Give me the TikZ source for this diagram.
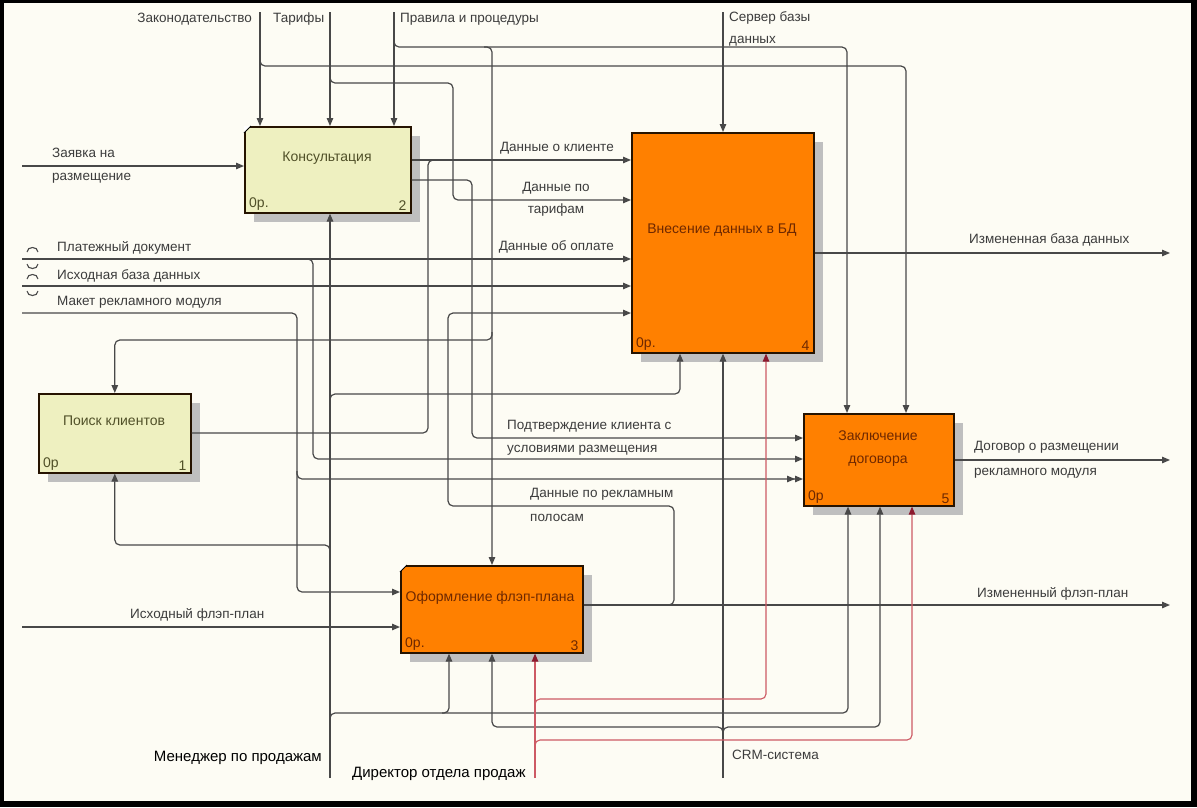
\documentclass[tikz,border=0pt]{standalone}
\usepackage{fontspec}
\setmainfont{Liberation Sans}
\usetikzlibrary{arrows.meta,shadows}

\definecolor{bgcol}{RGB}{253,252,244}
\definecolor{lncol}{RGB}{72,72,72}
\definecolor{redln}{RGB}{205,90,100}
\definecolor{redtip}{RGB}{140,25,45}
\definecolor{yfill}{RGB}{238,240,192}
\definecolor{ofill}{RGB}{255,128,0}
\definecolor{txtcol}{RGB}{60,60,60}
\definecolor{otxt}{RGB}{110,40,0}
\definecolor{ytxt}{RGB}{80,80,40}

\tikzset{
  tip/.style={-{Triangle[length=8pt,width=6.5pt]}},
  plain/.style={draw=lncol, line width=1.2pt, rounded corners=5pt},
  flow/.style={plain, tip},
  dflow/.style={plain, -{Triangle[length=8pt,width=6.5pt] Triangle[length=8pt,width=6.5pt]}},
  redflow/.style={draw=redln, line width=1.1pt, rounded corners=5pt,
    -{Triangle[length=8pt,width=6.5pt,color=redtip]}},
  fbox/.style={draw=black!85!orange, line width=1.6pt, inner sep=0pt, anchor=north west,
    drop shadow={shadow xshift=9pt, shadow yshift=-9pt, fill=black!25, opacity=1}},
  ypro/.style={fbox, fill=yfill},
  opro/.style={fbox, fill=ofill},
  lbl/.style={font=\fontsize{13.5}{15}\selectfont, text=txtcol, inner sep=0pt},
  ylbl/.style={lbl, font=\fontsize{14}{15}\selectfont, text=ytxt, align=center},
  olbl/.style={lbl, font=\fontsize{14}{15}\selectfont, text=otxt, align=center},
  ynum/.style={font=\fontsize{14}{15}\selectfont, text=ytxt, inner sep=0pt},
  onum/.style={font=\fontsize{14}{15}\selectfont, text=otxt, inner sep=0pt},
  role/.style={font=\fontsize{15}{17}\selectfont, text=black, inner sep=0pt},
  brk/.style={draw=lncol, line width=1.1pt}
}

\begin{document}
\begin{tikzpicture}[x=1pt,y=-1pt]
  % frame and paper
  \fill[black] (0,0) rectangle (1197,807);
  \fill[bgcol] (4,3) rectangle (1191,801);

  % activity boxes
  \node[ypro, minimum width=166pt, minimum height=86pt] (konsult) at (244,126) {};
  \node[ypro, minimum width=152pt, minimum height=79pt] (poisk) at (38,393) {};
  \node[opro, minimum width=182pt, minimum height=220pt] (vnesenie) at (631,132) {};
  \node[opro, minimum width=150pt, minimum height=92pt] (dogovor) at (803,413) {};
  \node[opro, minimum width=182pt, minimum height=87pt] (flep) at (400,565) {};

  % corner marks
  \fill[white] (konsult.north west) -- ++(7,0) -- ++(-7,7) -- cycle;
  \draw[line width=0.8pt] ([xshift=7pt]konsult.north west) -- ([yshift=-7pt]konsult.north west);
  \fill[white] (flep.north west) -- ++(7,0) -- ++(-7,7) -- cycle;
  \draw[line width=0.8pt] ([xshift=7pt]flep.north west) -- ([yshift=-7pt]flep.north west);

  % box texts
  \node[ylbl] (konsult-t) at (327,158) {Консультация};
  \node[ynum, anchor=south west] (konsult-op) at ([shift={(5pt,3pt)}]konsult.south west) {0р.};
  \node[ynum, anchor=south east] (konsult-n) at ([shift={(-5pt,3pt)}]konsult.south east) {2};
  \node[ylbl] (poisk-t) at (114,421) {Поиск клиентов};
  \node[ynum, anchor=south west] (poisk-op) at ([shift={(5pt,3pt)}]poisk.south west) {0р};
  \node[ynum, anchor=south east] (poisk-n) at ([shift={(-5pt,3pt)}]poisk.south east) {1};
  \node[olbl] (vnesenie-t) at (722,230) {Внесение данных в БД};
  \node[onum, anchor=south west] (vnesenie-op) at ([shift={(5pt,3pt)}]vnesenie.south west) {0р.};
  \node[onum, anchor=south east] (vnesenie-n) at ([shift={(-5pt,3pt)}]vnesenie.south east) {4};
  \node[olbl] (dogovor-t) at (878,449) {Заключение\\[8pt]договора};
  \node[onum, anchor=south west] (dogovor-op) at ([shift={(5pt,3pt)}]dogovor.south west) {0р};
  \node[onum, anchor=south east] (dogovor-n) at ([shift={(-5pt,3pt)}]dogovor.south east) {5};
  \node[olbl] (flep-t) at (490,598) {Оформление флэп-плана};
  \node[onum, anchor=south west] (flep-op) at ([shift={(5pt,3pt)}]flep.south west) {0р.};
  \node[onum, anchor=south east] (flep-n) at ([shift={(-5pt,3pt)}]flep.south east) {3};

  % free ends
  \coordinate (zakon) at (260,12);
  \coordinate (tarif) at (330,12);
  \coordinate (pravila) at (394,12);
  \coordinate (server) at (723,12);
  \coordinate (zayavka) at (22,166);
  \coordinate (platezh) at (22,259);
  \coordinate (ishbaza) at (22,286);
  \coordinate (maket) at (22,313);
  \coordinate (ishflep) at (22,627);
  \coordinate (outbaza) at (1170,253);
  \coordinate (outdog) at (1170,460);
  \coordinate (outflep) at (1170,605);
  \coordinate (menedzh) at (330,778);
  \coordinate (crm) at (723,778);
  \coordinate (direktor) at (535,778);

  % controls
  \draw[flow] (zakon) -- (zakon |- konsult.north);
  \draw[flow] (260,58) -- (260,66) -| (dogovor.north -| 906,0);
  \draw[flow] (tarif) -- (tarif |- konsult.north);
  \draw[flow] (330,75) -- (330,83) -| (453,200) -- (vnesenie.west |- 0,200);
  \draw[flow] (pravila) -- (pravila |- konsult.north);
  \draw[flow] (394,39) -- (394,47) -| (dogovor.north -| 847,0);
  \draw[flow] (484,47) -- (492,47) -- (flep.north -| 492,0);
  \draw[flow] (492,332) -- (492,340) -| (poisk.north);
  \draw[flow] (server) -- (server |- vnesenie.north);

  % inputs
  \draw[flow] (zayavka) -- (zayavka -| konsult.west);
  \draw[flow] (platezh) -- (platezh -| vnesenie.west);
  \draw[flow] (305,259) -- (313,259) |- (dogovor.west |- 0,459);
  \draw[flow] (ishbaza) -- (ishbaza -| vnesenie.west);
  \draw[flow] (maket) -| (297,592) -- (flep.west |- 0,592);
  \draw[dflow] (297,471) -- (297,479) -- (dogovor.west |- 0,479);
  \draw[flow] (ishflep) -- (ishflep -| flep.west);

  % tunnel brackets
  \foreach \yy in {259,286} {
    \draw[brk] (27,\yy-7) .. controls (27,\yy-13) and (38,\yy-13) .. (38,\yy-7);
    \draw[brk] (27,\yy+5) .. controls (27,\yy+11) and (38,\yy+11) .. (38,\yy+5);
  }

  % outputs
  \draw[flow] (konsult.east |- 0,160) -- (vnesenie.west |- 0,160);
  \draw[plain] (poisk.east |- 0,433) -| (428,160) -- (436,160);
  \draw[flow] (konsult.east |- 0,180) -| (472,438) -- (dogovor.west |- 0,438);
  \draw[flow] (vnesenie.east |- 0,253) -- (outbaza);
  \draw[flow] (dogovor.east |- 0,460) -- (outdog);
  \draw[flow] (flep.east |- 0,605) -- (outflep);
  \draw[flow] (664,605) -- (674,605) |- (448,506) |- (vnesenie.west |- 0,313);

  % mechanisms
  \draw[flow] (menedzh) -- (menedzh |- konsult.south);
  \draw[flow] (330,402) -- (330,394) -| (vnesenie.south -| 680,0);
  \draw[flow] (330,553) -- (330,545) -| (poisk.south);
  \draw[flow] (330,721) -- (330,713) -| (dogovor.south -| 848,0);
  \draw[flow] (442,713) -- (449,713) -- (flep.south -| 449,0);
  \draw[flow] (crm) -- (crm |- vnesenie.south);
  \draw[flow] (723,735) -- (723,727) -| (flep.south -| 492,0);
  \draw[flow] (723,735) -- (723,727) -| (dogovor.south -| 880,0);
  \draw[redflow] (direktor) -- (direktor |- flep.south);
  \draw[redflow] (535,707) -- (535,699) -| (vnesenie.south -| 766,0);
  \draw[redflow] (535,748) -- (535,740) -| (dogovor.south -| 912,0);

  % arrow labels
  \node[lbl, anchor=east] (zakon-l) at (252,19) {Законодательство};
  \node[lbl, anchor=west] (tarif-l) at (273,19) {Тарифы};
  \node[lbl, anchor=west] (pravila-l) at (400,19) {Правила и процедуры};
  \node[lbl, anchor=west, align=left] (server-l) at (729,29) {Сервер базы\\[7pt]данных};
  \node[lbl, anchor=west, align=left] (zayavka-l) at (52,166) {Заявка на\\[8pt]размещение};
  \node[lbl, anchor=west] (platezh-l) at (57,248) {Платежный документ};
  \node[lbl, anchor=west] (ishbaza-l) at (57,276) {Исходная база данных};
  \node[lbl, anchor=west] (maket-l) at (57,302) {Макет рекламного модуля};
  \node[lbl, anchor=west] (ishflep-l) at (130,615) {Исходный флэп-план};
  \node[lbl, anchor=east] (klient-l) at (614,148) {Данные о клиенте};
  \node[lbl, align=center] (tarifdat-l) at (556,199) {Данные по\\[7pt]тарифам};
  \node[lbl, anchor=east] (oplata-l) at (614,247) {Данные об оплате};
  \node[lbl, anchor=west, align=left] (podtv-l) at (507,438) {Подтверждение клиента с\\[8pt]условиями размещения};
  \node[lbl, anchor=west, align=left] (polosy-l) at (530,505) {Данные по рекламным\\[9pt]полосам};
  \node[lbl, anchor=west] (outbaza-l) at (969,240) {Измененная база данных};
  \node[lbl, anchor=west, align=left] (outdog-l) at (974,460) {Договор о размещении\\[10pt]рекламного модуля};
  \node[lbl, anchor=west] (outflep-l) at (977,594) {Измененный флэп-план};
  \node[lbl, anchor=west] (crm-l) at (732,755) {CRM-система};
  \node[role, anchor=east] (menedzh-l) at (322,758) {Менеджер по продажам};
  \node[role, anchor=west] (direktor-l) at (352,774) {Директор отдела продаж};
\end{tikzpicture}
\end{document}
